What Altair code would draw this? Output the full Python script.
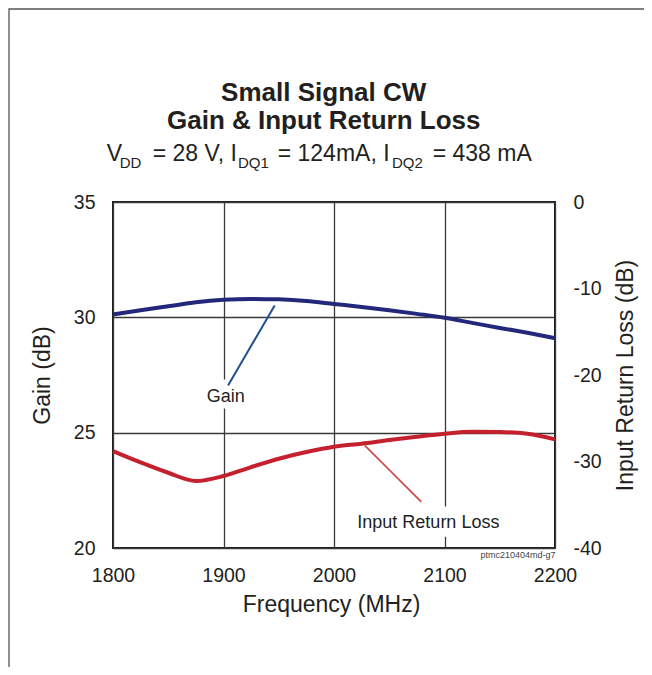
import altair as alt
import pandas as pd

# ---------------- data ----------------
freq = [1800, 1825, 1850, 1875, 1900, 1925, 1950, 1975, 2000,
        2025, 2050, 2075, 2100, 2125, 2150, 2175, 2200]
gain_db = [30.12, 30.31, 30.48, 30.65, 30.76, 30.80, 30.78, 30.71, 30.58,
           30.45, 30.31, 30.15, 29.98, 29.76, 29.54, 29.33, 29.10]
irl_db = [-28.79, -30.10, -31.30, -32.26, -31.68, -30.64, -29.68, -28.91, -28.29,
          -27.94, -27.52, -27.14, -26.79, -26.56, -26.60, -26.79, -27.44]

x_ticks = [1800, 1900, 2000, 2100, 2200]
gain_ticks = [20, 25, 30, 35]
irl_ticks = [-40, -30, -20, -10, 0]

# annotations (data coordinates)
gain_label = "Gain"
gain_label_at = [1902, 26.55]
gain_leader = [1946.3, 30.51, 1904.1, 27.05]
gain_label_box = [1880, 1924, 26.05, 27.3]

irl_label = "Input Return Loss"
irl_label_at = [2085.4, -37.15]
irl_leader = [2027.8, -28.14, 2079.0, -34.68]
irl_label_box = [2030, 2142, -35.2, -38.7]

title_lines = ["Small Signal CW", "Gain & Input Return Loss"]
subtitle_parts = ["V", "DD", "= 28 V, I", "DQ1", "= 124mA, I", "DQ2", "= 438 mA"]
subtitle_is_sub = [False, True, False, True, False, True, False]
code_label = "ptmc210404md-g7"

# ---------------- styling / layout ----------------
W, H = 442, 346
FONT = "Liberation Sans"
GAIN_C = "#24287a"
GAIN_LEAD = "#1f4f8f"
IRL_C = "#c4202e"
IRL_LEAD = "#c85050"
TXT = "#231f20"
GRID = "#3a3a3a"

subtitle_x = [-6.3, 6.7, 39.7, 125.0, 164.7, 279.0, 319.7]

df = pd.DataFrame({"freq": freq, "gain": gain_db, "irl": irl_db})

x_scale = alt.Scale(domain=[1800, 2200], nice=False, zero=False)
gain_scale = alt.Scale(domain=[20, 35], nice=False, zero=False)
irl_scale = alt.Scale(domain=[-40, 0], nice=False, zero=False)

LBL = "'' + datum.value"
x_axis = alt.Axis(values=x_ticks, title="Frequency (MHz)", grid=True, ticks=False,
                  domain=False, labelPadding=18, labelFlush=False, labelExpr=LBL,
                  titleX=W / 2 - 3, titleY=56, titleBaseline="middle", titleAlign="center")
gain_axis = alt.Axis(orient="left", values=gain_ticks, title="Gain (dB)", grid=True,
                     ticks=False, domain=False, labelPadding=18, labelExpr=LBL,
                     titleAngle=270, titleX=-71, titleY=H / 2, titleBaseline="middle",
                     titleAlign="center")
irl_axis = alt.Axis(orient="right", values=irl_ticks, title="Input Return Loss (dB)",
                    grid=False, ticks=False, domain=False, labelPadding=18, labelExpr=LBL,
                    titleAngle=270, titleX=70, titleY=H / 2, titleBaseline="middle",
                    titleAlign="center")


def gx(field):
    return alt.X(field, scale=x_scale, axis=x_axis)


def gy(field):
    return alt.Y(field, scale=gain_scale, axis=gain_axis)


def iy(field):
    return alt.Y(field, scale=irl_scale, axis=irl_axis)


# ----- gain layers -----
gain_line = alt.Chart(df).mark_line(color=GAIN_C, strokeWidth=4, interpolate="monotone").encode(
    x=gx("freq:Q"), y=gy("gain:Q"))

gl_df = pd.DataFrame({"x": [gain_leader[0]], "y": [gain_leader[1]],
                      "x2": [gain_leader[2]], "y2": [gain_leader[3]]})
gain_lead = alt.Chart(gl_df).mark_rule(color=GAIN_LEAD, strokeWidth=2).encode(
    x=gx("x:Q"), y=gy("y:Q"), x2="x2:Q", y2="y2:Q")

gb_df = pd.DataFrame({"x": [gain_label_box[0]], "x2": [gain_label_box[1]],
                      "y": [gain_label_box[2]], "y2": [gain_label_box[3]]})
gain_box = alt.Chart(gb_df).mark_rect(fill="white").encode(
    x=gx("x:Q"), y=gy("y:Q"), x2="x2:Q", y2="y2:Q")

gt_df = pd.DataFrame({"x": [gain_label_at[0]], "y": [gain_label_at[1]], "t": [gain_label]})
gain_text = alt.Chart(gt_df).mark_text(font=FONT, fontSize=18, color=TXT, align="center",
                                       baseline="middle").encode(
    x=gx("x:Q"), y=gy("y:Q"), text="t:N")

gain_layer = alt.layer(gain_box, gain_line, gain_lead, gain_text)

# ----- IRL layers -----
irl_line = alt.Chart(df).mark_line(color=IRL_C, strokeWidth=4, interpolate="monotone").encode(
    x=gx("freq:Q"), y=iy("irl:Q"))
il_df = pd.DataFrame({"x": [irl_leader[0]], "y": [irl_leader[1]],
                      "x2": [irl_leader[2]], "y2": [irl_leader[3]]})
irl_lead = alt.Chart(il_df).mark_rule(color=IRL_LEAD, strokeWidth=1.8).encode(
    x=gx("x:Q"), y=iy("y:Q"), x2="x2:Q", y2="y2:Q")
ib_df = pd.DataFrame({"x": [irl_label_box[0]], "x2": [irl_label_box[1]],
                      "y": [irl_label_box[2]], "y2": [irl_label_box[3]]})
irl_box = alt.Chart(ib_df).mark_rect(fill="white").encode(
    x=gx("x:Q"), y=iy("y:Q"), x2="x2:Q", y2="y2:Q")
it_df = pd.DataFrame({"x": [irl_label_at[0]], "y": [irl_label_at[1]], "t": [irl_label]})
irl_text = alt.Chart(it_df).mark_text(font=FONT, fontSize=18, color=TXT, align="center",
                                      baseline="middle").encode(
    x=gx("x:Q"), y=iy("y:Q"), text="t:N")

irl_layer = alt.layer(irl_box, irl_line, irl_lead, irl_text)

# ----- titles and decorations -----
one = alt.Data(values=[{}])
deco = []
for i, line in enumerate(title_lines):
    deco.append(alt.Chart(one).mark_text(text=line, font=FONT, fontSize=26, fontWeight="bold",
                                         color=TXT, align="center", baseline="alphabetic").encode(
        x=alt.value(210.7), y=alt.value([-100.6, -73.0][i])))
for part, px, sub in zip(subtitle_parts, subtitle_x, subtitle_is_sub):
    deco.append(alt.Chart(one).mark_text(text=part, font=FONT, fontSize=15 if sub else 23,
                                         color=TXT, align="left", baseline="alphabetic").encode(
        x=alt.value(px), y=alt.value(-34.0 if sub else -40.6)))
deco.append(alt.Chart(one).mark_text(text=code_label, font=FONT, fontSize=9, color="#444",
                                     align="center", baseline="middle").encode(
    x=alt.value(405), y=alt.value(352.7)))
deco.append(alt.Chart(one).mark_rect(fillOpacity=0, stroke="#555555", strokeWidth=1.3).encode(
    x=alt.value(-104), x2=alt.value(760), y=alt.value(-193), y2=alt.value(760)))

chart = alt.layer(gain_layer, irl_layer, *deco).resolve_scale(y="independent").properties(
    width=W, height=H,
    autosize=alt.AutoSizeParams(type="none"),
    padding={"left": 105, "top": 194, "right": 89, "bottom": 119},
    background="white",
).configure_view(stroke="#1a1a1a", strokeWidth=2).configure_axis(
    labelFont=FONT, titleFont=FONT, labelFontSize=19.5, titleFontSize=23,
    labelColor=TXT, titleColor=TXT, titleFontWeight="normal",
    gridColor=GRID, gridWidth=1.3, gridOpacity=1,
)

chart.save("out.html", embed_options={"renderer": "svg", "actions": False})
